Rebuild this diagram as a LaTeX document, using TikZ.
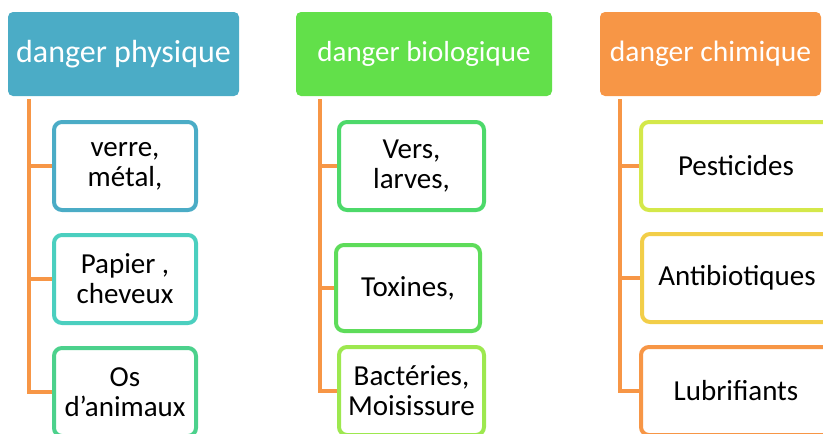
\documentclass[tikz,border=0pt]{standalone}
\usepackage{fontspec}
\setmainfont{Carlito}
\usetikzlibrary{backgrounds}
\definecolor{physBlue}{HTML}{4BACC6}
\definecolor{bioGreen}{HTML}{62E04A}
\definecolor{chemOrange}{HTML}{F79646}
\definecolor{tealA}{HTML}{4BCFBF}
\definecolor{greenA}{HTML}{4CD18C}
\definecolor{greenB}{HTML}{4DD96A}
\definecolor{greenC}{HTML}{5EDC5A}
\definecolor{limeA}{HTML}{9DE84F}
\definecolor{limeB}{HTML}{D4E84A}
\definecolor{yellowA}{HTML}{F2CE48}

\begin{document}
\begin{tikzpicture}[x=1pt, y=-1pt,
  head/.style={rectangle, rounded corners=5pt, text=white, inner sep=0pt,
               minimum height=84pt, font=\fontsize{#1}{36}\selectfont},
  item/.style={rectangle, draw, line width=4pt, rounded corners=8pt, fill=white,
               align=center, inner sep=0pt, minimum height=88pt, text=black,
               font=\fontsize{29}{30}\selectfont},
  link/.style={chemOrange, line width=4.5pt},
]
  \useasboundingbox (0,0) rectangle (823,434);
  \clip (0,0) rectangle (823,434);

  % headers
  \node[head=32, fill=physBlue, minimum width=231pt] (phys) at (123.5,54) {danger physique};
  \node[head=29, fill=bioGreen, minimum width=256pt] (bio) at (424,54) {danger biologique};
  \node[head=29.5, fill=chemOrange, minimum width=221pt] (chem) at (710.5,54) {danger chimique};

  % danger physique
  \node[item, draw=physBlue, minimum width=142pt] (verre) at (125,166) {verre,\\métal,};
  \node[item, draw=tealA, minimum width=142pt] (papier) at (125,279) {Papier ,\\cheveux};
  \node[item, draw=greenA, minimum width=142pt] (os) at (125,392) {Os\\d’animaux};

  % danger biologique
  \node[item, draw=greenB, minimum width=145pt] (vers) at (411.5,166) {Vers,\\larves,};
  \node[item, draw=greenC, minimum width=144pt, minimum height=86pt] (toxines) at (408,288) {Toxines,};
  \node[item, draw=limeA, minimum width=145pt] (bacteries) at (411.5,391) {Bactéries,\\Moisissure};

  % danger chimique
  \node[item, draw=limeB, minimum width=190pt] (pest) at (736,166) {Pesticides};
  \node[item, draw=yellowA, minimum width=190pt] (antibio) at (737,278) {Antibiotiques};
  \node[item, draw=chemOrange, minimum width=190pt] (lubri) at (736,391) {Lubrifiants};

  \begin{scope}[on background layer]
    \foreach \c in {verre, papier, os}
      \draw[link] ([xshift=21pt, yshift=-3pt]phys.south west) |- (\c.west);
    \foreach \c in {vers, toxines, bacteries}
      \draw[link] ([xshift=24pt, yshift=-3pt]bio.south west) |- (\c.west);
    \foreach \c in {pest, antibio, lubri}
      \draw[link] ([xshift=20pt, yshift=-3pt]chem.south west) |- (\c.west);
  \end{scope}
\end{tikzpicture}
\end{document}
